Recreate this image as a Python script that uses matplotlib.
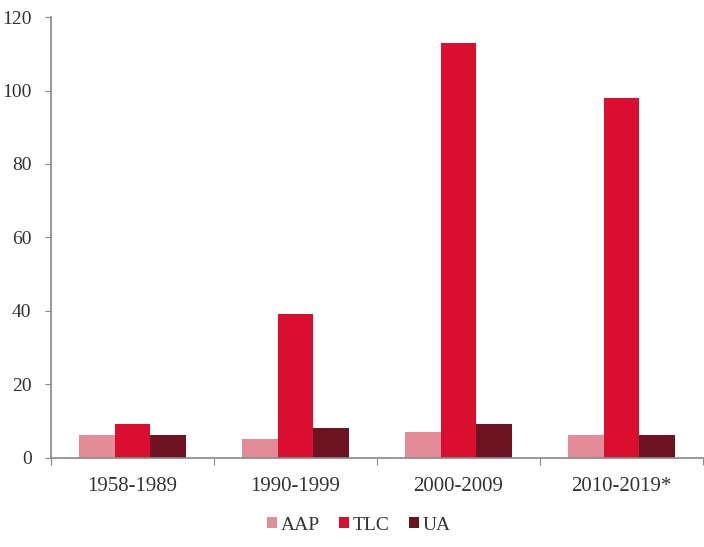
import matplotlib.pyplot as plt
import numpy as np

periods = ["1958-1989", "1990-1999", "2000-2009", "2010-2019*"]
series = ["AAP", "TLC", "UA"]
aap = [6, 5, 7, 6]
tlc = [9, 39, 113, 98]
ua = [6, 8, 9, 6]
colors = ["#E38C98", "#DA0E2E", "#6E1322"]

plt.rcParams["font.family"] = ["Liberation Serif", "DejaVu Serif"]

fig = plt.figure(figsize=(7.04, 5.47), dpi=100)
ax = fig.add_axes([0.0724, 0.1636, 0.9262, 0.805])

x = np.arange(len(periods))
width = 0.22
for i, (name, vals) in enumerate(zip(series, [aap, tlc, ua])):
    ax.bar(x + (i - 1) * width, vals, width, color=colors[i], label=name)

ax.set_xlim(-0.5, len(periods) - 0.5)
ax.set_ylim(0, 120)
ax.set_yticks(range(0, 121, 20))

# ticks between groups, labels centred on groups
ax.set_xticks(np.arange(-0.5, len(periods), 1.0))
ax.set_xticklabels([])
ax.set_xticks(x, minor=True)
ax.set_xticklabels(periods, minor=True)
ax.tick_params(axis="x", which="minor", length=0, pad=14, labelsize=15, labelcolor="#333333")
ax.tick_params(axis="x", which="major", length=5, color="#888888")
ax.tick_params(axis="y", length=4, color="#888888", labelsize=14, labelcolor="#333333", pad=10)

for side in ["top", "right"]:
    ax.spines[side].set_visible(False)
for side in ["left", "bottom"]:
    ax.spines[side].set_color("#888888")
    ax.spines[side].set_linewidth(1.2)

fig.legend(loc="center", bbox_to_anchor=(0.51, 0.04), ncol=3, frameon=False,
           fontsize=14, handlelength=0.5, handleheight=0.5, handletextpad=0.2,
           columnspacing=1.0, labelcolor="#333333")

plt.savefig("out.png", dpi=100)
